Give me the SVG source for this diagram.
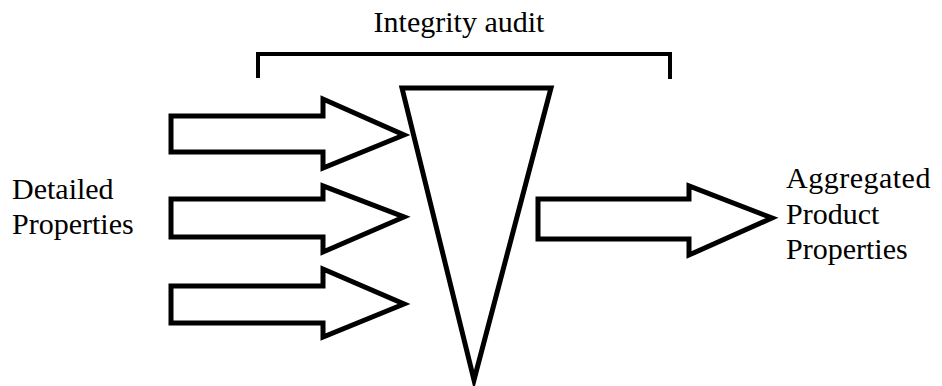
<svg xmlns="http://www.w3.org/2000/svg" width="942" height="386" viewBox="0 0 942 386">
  <style>
    .shape { fill: #ffffff; stroke: #000000; stroke-width: 5; stroke-linejoin: miter; stroke-miterlimit: 10; }
    .line { fill: none; stroke: #000000; stroke-width: 4; }
    text { font-family: "Liberation Serif", "DejaVu Serif", serif; font-size: 30px; fill: #000000; }
  </style>
  <rect width="942" height="386" fill="#ffffff"/>

  <!-- audit bracket and its title -->
  <g id="audit">
    <path class="line" d="M258,78 V54 H670 V79"/>
    <text x="459" y="32" text-anchor="middle" font-size="30.5">Integrity audit</text>
  </g>

  <!-- aggregation funnel -->
  <g id="funnel">
    <polygon class="shape" stroke-width="4" points="402,88 551,88 474,380"/>
  </g>

  <!-- inputs and output -->
  <g id="connectors">
    <polygon class="shape" points="171,116 323,116 323,99 404,135 323,168 323,152 171,152"/>
    <polygon class="shape" points="171,199 323,199 323,186 404,217 323,252 323,237 171,237"/>
    <polygon class="shape" points="171,286 323,286 323,269 404,304 323,337 323,323 171,323"/>
    <polygon class="shape" points="538,199 689,199 689,186 772,218 689,255 689,239 538,239"/>
  </g>

  <g id="input-label">
    <text x="12" y="199">Detailed</text>
    <text x="12" y="234">Properties</text>
  </g>

  <g id="output-label">
    <text x="786" y="188" letter-spacing="0.5">Aggregated</text>
    <text x="786" y="224">Product</text>
    <text x="786" y="259">Properties</text>
  </g>
</svg>
